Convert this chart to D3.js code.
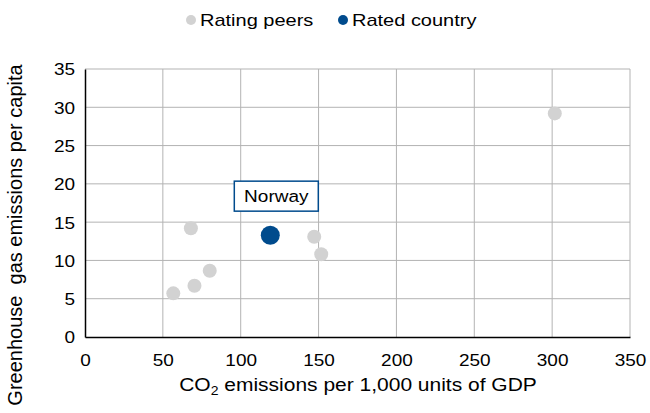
<!DOCTYPE html>
<html>
<head>
<meta charset="utf-8">
<script src="https://cdn.jsdelivr.net/npm/d3@7"></script>
<style>
  body { margin: 0; background: #fff; }
  svg { font-family: "Liberation Sans", Arial, sans-serif; }
</style>
</head>
<body>
<div id="chart"></div>
<script>
// peers: CO2 per 1,000 GDP vs GHG per capita
const peerX = [56.7, 70.3, 80.1, 68, 147.2, 151.7, 301.7];
const peerY = [5.7, 6.7, 8.65, 14.2, 13.1, 10.8, 29.2];
const ratedName = ['Norway'];
const ratedX = [119];
const ratedY = [13.3];
const xTicks = [0, 50, 100, 150, 200, 250, 300, 350];
const yTicks = [0, 5, 10, 15, 20, 25, 30, 35];
const legendLabels = ['Rating peers', 'Rated country'];

const W = 650, H = 413;
const margin = { top: 69, right: 20, bottom: 76, left: 85 };
const width = 630 - margin.left;
const height = 337 - margin.top;
const grey = '#d2d2d2', blue = '#004b8d';
const squash = 0.85; // text looks vertically squashed in the original

const svg = d3.select('#chart').append('svg')
  .attr('width', W).attr('height', H);

const g = svg.append('g')
  .attr('transform', `translate(${margin.left}, ${margin.top})`);

const xScale = d3.scaleLinear().domain([0, 350]).range([0, width]);
const yScale = d3.scaleLinear().domain([0, 35]).range([height, 0]);

// put a text at (x, y) with the squashed look
function label(parent, x, y, size, anchor) {
  return parent.append('g')
    .attr('transform', `translate(${x}, ${y}) scale(1, ${squash})`)
    .append('text')
    .attr('text-anchor', anchor || 'start')
    .attr('font-size', size)
    .attr('fill', '#000');
}

// gridlines
g.append('g').selectAll('line').data(xTicks.slice(1)).enter().append('line')
  .attr('x1', d => xScale(d)).attr('x2', d => xScale(d))
  .attr('y1', 0).attr('y2', height)
  .attr('stroke', '#b3b3b3').attr('stroke-width', 1);
g.append('g').selectAll('line').data(yTicks.slice(1)).enter().append('line')
  .attr('x1', 0).attr('x2', width)
  .attr('y1', d => yScale(d)).attr('y2', d => yScale(d))
  .attr('stroke', '#b3b3b3').attr('stroke-width', 1);

// axes
const xAxis = d3.axisBottom(xScale).tickValues(xTicks).tickSize(0).tickPadding(0);
g.append('g').attr('class', 'x-axis')
  .attr('transform', `translate(0, ${height})`)
  .call(xAxis);
const yAxis = d3.axisLeft(yScale).tickValues(yTicks).tickSize(0).tickPadding(10);
g.append('g').attr('class', 'y-axis').call(yAxis);

d3.selectAll('.x-axis path, .y-axis path').attr('stroke', '#000').attr('stroke-width', 1.5);
d3.selectAll('.x-axis text, .y-axis text')
  .attr('fill', '#000').attr('font-size', 19)
  .style('font-family', '"Liberation Sans", Arial, sans-serif');
d3.selectAll('.x-axis text').attr('dy', null).attr('y', 34)
  .attr('transform', `scale(1, ${squash})`);
d3.selectAll('.y-axis text').attr('dy', null).attr('y', 7)
  .attr('transform', `scale(1, ${squash})`);

// points
const peers = peerX.map((x, i) => ({ x, y: peerY[i] }));
g.selectAll('.peer').data(peers).enter().append('circle')
  .attr('class', 'peer')
  .attr('cx', d => xScale(d.x)).attr('cy', d => yScale(d.y))
  .attr('r', 7).attr('fill', grey);

const rated = ratedX.map((x, i) => ({ x, y: ratedY[i], name: ratedName[i] }));
g.selectAll('.rated').data(rated).enter().append('circle')
  .attr('class', 'rated')
  .attr('cx', d => xScale(d.x)).attr('cy', d => yScale(d.y))
  .attr('r', 9.5).attr('fill', blue);

// label box
rated.forEach(d => {
  const cx = xScale(d.x) + 6, cy = yScale(d.y) - 39;
  g.append('rect')
    .attr('x', cx - 42).attr('y', cy - 15)
    .attr('width', 84).attr('height', 30)
    .attr('fill', '#fff').attr('stroke', blue).attr('stroke-width', 1.5);
  label(g, cx, cy + 6, 19, 'middle').text(d.name);
});

// axis titles
const xt = label(svg, 358, 391, 21, 'middle');
xt.append('tspan').text('CO');
xt.append('tspan').attr('font-size', 14).attr('dy', 5).text('2');
xt.append('tspan').attr('dy', -5).text(' emissions per 1,000 units of GDP');

svg.append('text')
  .attr('transform', `translate(22, 235) rotate(-90)`)
  .attr('text-anchor', 'middle').attr('font-size', 20)
  .style('white-space', 'pre')
  .text('Greenhouse  gas emissions per capita');

// legend
const legendX = [191, 343];
const legendColors = [grey, blue];
legendLabels.forEach((lab, i) => {
  svg.append('circle').attr('cx', legendX[i]).attr('cy', 20)
    .attr('r', 5).attr('fill', legendColors[i]);
  label(svg, legendX[i] + 9, 26, 20).text(lab);
});
</script>
</body>
</html>
